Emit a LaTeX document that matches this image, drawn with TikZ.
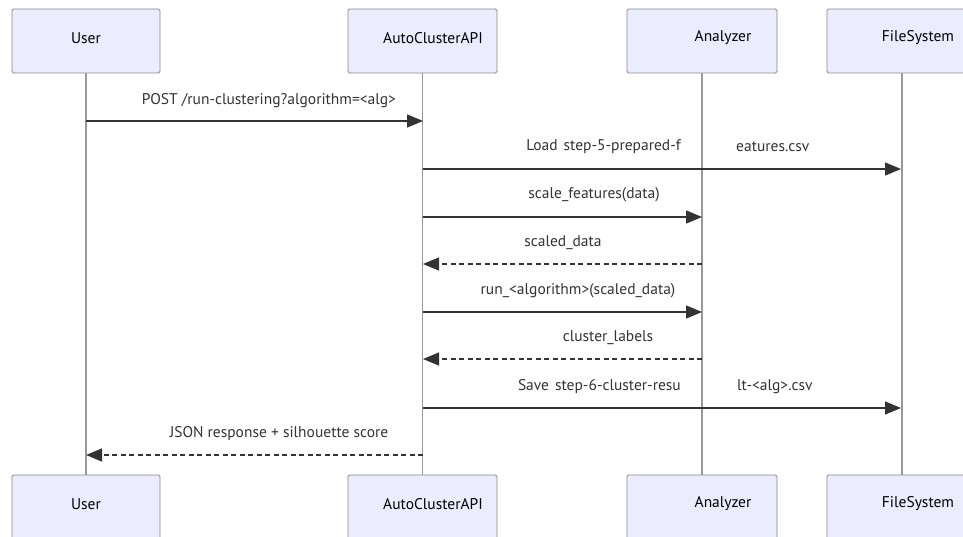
\documentclass[tikz,border=0pt]{standalone}
\usepackage{fontspec}
\setmainfont{PT Sans}
\usetikzlibrary{arrows.meta}
\definecolor{actorfill}{HTML}{ECECFF}
\definecolor{actorline}{HTML}{8A8A8A}
\definecolor{lifeline}{HTML}{999999}
\definecolor{msg}{HTML}{333333}
\tikzset{
  actor/.style={draw=actorline, line width=0.9pt, fill=actorfill, rounded corners=1.5pt,
    minimum height=64pt, inner sep=0pt, text=black, font=\fontsize{15.5}{18}\selectfont},
  life/.style={draw=lifeline, line width=1.1pt},
  call/.style={draw=msg, line width=1.4pt, -{Triangle[length=16pt,width=13pt]}},
  reply/.style={call, dash pattern=on 5pt off 3.5pt},
  lbl/.style={text=msg, inner sep=0pt, font=\fontsize{15.5}{18}\selectfont}
}
\begin{document}
\begin{tikzpicture}[x=1pt,y=-1pt]
\useasboundingbox (0,0) rectangle (963,537);
\fill[white] (0,0) rectangle (963,537);
\clip (0,0) rectangle (963,537);

% participant boxes (top and bottom)
\node[actor, minimum width=148pt] (userT) at (86,41) {};
\node[actor, minimum width=149pt] (apiT) at (422.5,41) {};
\node[actor, minimum width=150pt] (anaT) at (702,41) {};
\node[actor, minimum width=150pt] (fsT) at (902,41) {};
\node[actor, minimum width=148pt] (userB) at (86,507) {};
\node[actor, minimum width=149pt] (apiB) at (422.5,507) {};
\node[actor, minimum width=150pt] (anaB) at (702,507) {};
\node[actor, minimum width=150pt] (fsB) at (902,507) {};

% participant names
\foreach \n/\x/\t in {userT/86/User, apiT/433/AutoClusterAPI, anaT/723/Analyzer, fsT/918/FileSystem}
  \node[lbl, text=black] (\n-name) at (\x,38) {\t};
\foreach \n/\x/\t in {userB/86/User, apiB/433/AutoClusterAPI, anaB/723/Analyzer, fsB/918/FileSystem}
  \node[lbl, text=black] (\n-name) at (\x,504) {\t};

% lifelines
\draw[life] (userT.south) -- (userB.north);
\draw[life] (apiT.south) -- (apiB.north);
\draw[life] (anaT.south) -- (anaB.north);
\draw[life] (fsT.south) -- (fsB.north);

% message anchor points on the lifelines
\coordinate (u1) at (86,121);   \coordinate (a1) at (423,121);
\coordinate (a2) at (423,169);  \coordinate (f2) at (901,169);
\coordinate (a3) at (423,217);  \coordinate (n3) at (702,217);
\coordinate (n4) at (702,264);  \coordinate (a4) at (423,264);
\coordinate (a5) at (423,312);  \coordinate (n5) at (702,312);
\coordinate (n6) at (702,359);  \coordinate (a6) at (423,359);
\coordinate (a7) at (423,408);  \coordinate (f7) at (901,408);
\coordinate (a8) at (423,455);  \coordinate (u8) at (86,455);

% messages
\draw[call] (u1) -- (a1);
\node[lbl] (m1) at (269,101) {POST /run-clustering?algorithm=<alg>};

\draw[call] (a2) -- (f2);
\node[lbl, anchor=east] (m2a) at (681,147) {Load\hspace{6pt}step-5-prepared-f};
\node[lbl, anchor=west] (m2b) at (736,147) {eatures.csv};

\draw[call] (a3) -- (n3);
\node[lbl] (m3) at (594,195) {scale\_features(data)};

\draw[reply] (n4) -- (a4);
\node[lbl] (m4) at (563,243) {scaled\_data};

\draw[call] (a5) -- (n5);
\node[lbl] (m5) at (578,291) {run\_<algorithm>(scaled\_data)};

\draw[reply] (n6) -- (a6);
\node[lbl] (m6) at (608,338) {cluster\_labels};

\draw[call] (a7) -- (f7);
\node[lbl, anchor=east] (m7a) at (681,387) {Save\hspace{6pt}step-6-cluster-resu};
\node[lbl, anchor=west] (m7b) at (737,387) {lt-<alg>.csv};

\draw[reply] (a8) -- (u8);
\node[lbl] (m8) at (279,434) {JSON response + silhouette score};
\end{tikzpicture}
\end{document}
